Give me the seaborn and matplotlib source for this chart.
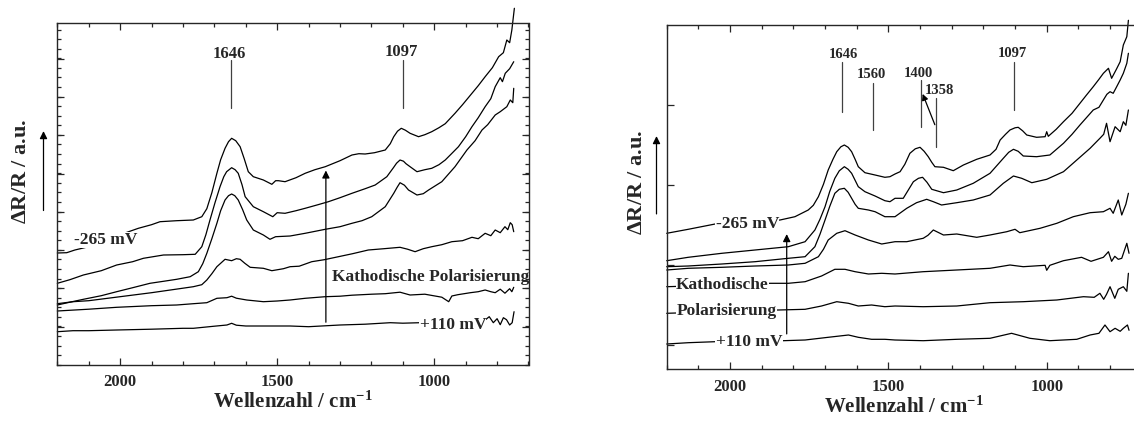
import numpy as np
import pandas as pd
import matplotlib
import matplotlib.pyplot as plt
import seaborn as sns
from matplotlib.ticker import MultipleLocator

matplotlib.use('Agg')

# ---- left panel: six spectra (height in a.u.)
left_w1 = [2200, 2170, 2144, 2100, 2000, 1942, 1900, 1873, 1820, 1767, 1740, 1724, 1708, 1692, 1680, 1666,
           1655, 1645, 1632, 1618, 1605, 1592, 1576, 1544, 1517, 1505, 1496, 1475, 1440, 1411, 1380, 1347,
           1300, 1262, 1240, 1220, 1190, 1156, 1140, 1129, 1117, 1105, 1092, 1077, 1050, 1030, 1008, 985,
           965, 934, 910, 880, 860, 838, 815, 795, 780, 769, 760, 753, 745]
left_y1 = [111.7, 112, 114.7, 118, 130, 136.4, 140, 143, 144, 144.7, 148, 156, 172, 191.4, 205, 216.4,
           223, 226.4, 224, 218, 206, 193, 188, 184.7, 180.4, 184, 184, 183, 187, 191.4, 195, 198,
           204, 209.7, 211, 210.7, 212, 214.7, 221, 228, 233.5, 236.4, 234.5, 231.4, 228, 230, 233, 237,
           241, 251.4, 260, 271.4, 279, 288, 297, 308, 312, 324.7, 322, 334.7, 356.4]
left_w2 = [2200, 2160, 2117, 2060, 2011, 1960, 1926, 1862, 1800, 1761, 1740, 1727, 1714, 1698, 1682, 1670,
           1661, 1645, 1634, 1624, 1612, 1602, 1576, 1544, 1514, 1500, 1475, 1440, 1411, 1370, 1337, 1300,
           1262, 1220, 1188, 1151, 1130, 1120, 1109, 1098, 1090, 1077, 1055, 1030, 1008, 985, 965, 945,
           923, 900, 880, 860, 838, 820, 806, 790, 783, 774, 760, 747]
left_y2 = [81.4, 85, 89.7, 94, 99.7, 103, 106.4, 109.7, 110, 110.4, 118, 130, 144.7, 162, 178, 188,
           193, 197, 195, 191.4, 180, 168, 158, 153, 148, 152, 151.4, 154, 156.4, 160, 163, 167,
           171.4, 176, 179.7, 188, 197, 201.5, 204.7, 203.5, 201, 198, 193, 195, 196.4, 200, 204.7, 211,
           218, 228, 238, 247, 258, 266, 278, 287, 283, 291.4, 296, 303]
left_w3 = [2200, 2160, 2117, 2060, 2011, 1960, 1905, 1860, 1820, 1777, 1751, 1737, 1724, 1708, 1692, 1680,
           1666, 1655, 1645, 1635, 1624, 1610, 1597, 1576, 1544, 1523, 1505, 1459, 1411, 1347, 1300, 1262,
           1230, 1199, 1156, 1129, 1118, 1109, 1095, 1082, 1055, 1035, 1018, 976, 934, 896, 870, 848,
           830, 806, 790, 769, 758, 750, 747]
left_y3 = [59.7, 62.5, 65.4, 69, 73, 77, 81.4, 83.5, 85.4, 88, 93, 101, 111.4, 126, 141.4, 154,
           164.7, 169, 170.7, 169, 164.7, 155, 144.7, 134.7, 129.7, 125.4, 128, 128.7, 131.4, 135.4, 138, 141.4,
           144, 148, 158, 171.4, 177.5, 182, 179.5, 174.7, 169.7, 171, 174.7, 183, 198, 214.7, 224, 234.7,
           240, 249.7, 253, 258, 264.7, 262, 276.4]
left_w4 = [2200, 2150, 2100, 2000, 1900, 1800, 1767, 1740, 1724, 1708, 1692, 1666, 1645, 1630, 1618, 1603,
           1586, 1544, 1517, 1480, 1459, 1430, 1390, 1350, 1305, 1260, 1210, 1160, 1109, 1085, 1061, 1035,
           1008, 976, 944, 910, 880, 860, 838, 820, 806, 790, 775, 766, 758, 752, 747]
left_y4 = [61, 63, 64, 68, 72, 76.5, 78, 80, 84.7, 91, 98, 105.4, 104, 106, 105.4, 101.4,
           97.4, 96.4, 94, 96, 98, 98.5, 103, 105, 108, 111, 114.7, 116, 117.4, 115.5, 113, 116,
           118, 120, 123, 124, 127.4, 126, 131.4, 129, 134.7, 132, 138, 135, 142, 140, 133]
left_w5 = [2200, 2100, 2011, 1900, 1820, 1767, 1724, 1692, 1660, 1645, 1630, 1597, 1544, 1500, 1459, 1411,
           1347, 1300, 1262, 1199, 1156, 1109, 1077, 1030, 976, 954, 944, 925, 885, 860, 838, 820, 806,
           790, 775, 760, 753, 747]
left_y5 = [53.7, 55.5, 57.4, 59, 59.7, 61, 62, 66.4, 67, 68.5, 66.5, 64.7, 63, 63.7, 64.7, 66.4,
           68, 68.5, 69.5, 70.5, 71, 72.5, 69.7, 70.5, 67.5, 63, 68.7, 70, 72, 73, 74.7, 73, 72,
           75.5, 71.5, 76, 73, 77.4]
left_w6 = [2200, 2150, 2100, 2011, 1900, 1800, 1767, 1700, 1660, 1645, 1630, 1600, 1544, 1459, 1400, 1300,
           1220, 1140, 1100, 1045, 990, 900, 838, 825, 812, 800, 790, 780, 770, 760, 752, 746]
left_y6 = [33, 34, 34, 34.7, 35.5, 36.4, 36.4, 38.5, 39.7, 41.4, 39.5, 38.7, 38.7, 38.7, 38, 39.7,
           40.5, 42, 41.5, 42, 42.5, 43.5, 44.7, 48, 42, 46, 40, 47, 45, 39.7, 42, 53]

# ---- right panel: seven spectra
right_w1 = [2200, 2132, 2079, 2047, 2000, 1900, 1842, 1795, 1753, 1737, 1721, 1705, 1690, 1675, 1663, 1650,
            1639, 1627, 1616, 1605, 1595, 1574, 1542, 1511, 1495, 1479, 1463, 1448, 1432, 1415, 1400, 1387,
            1374, 1363, 1353, 1326, 1295, 1263, 1221, 1179, 1160, 1147, 1130, 1116, 1100, 1090, 1076, 1063,
            1032, 1005, 1000, 995, 970, 947, 920, 895, 875, 853, 835, 821, 805, 795, 780, 768, 758, 747, 742]
right_y1 = [136, 140, 143.3, 145.3, 147, 148, 149.3, 152.6, 159.3, 164, 172.6, 185, 199.3, 210, 217.6, 222.5,
            224.3, 222, 217.6, 210, 202.6, 196.6, 194.3, 192, 192.6, 195.3, 197.6, 205, 216, 220.5, 222, 218,
            212.6, 207, 202.6, 202, 198.6, 204.3, 210, 214.3, 220, 229.3, 235, 239.3, 241.5, 242, 238.5, 234.3,
            232, 232.6, 237.6, 233, 240, 247.6, 256, 266, 274, 282.6, 290, 296, 301, 291, 300, 307.6, 324.3, 332.6, 349]
right_w2 = [2200, 2132, 2026, 1921, 1816, 1763, 1732, 1716, 1700, 1685, 1669, 1655, 1639, 1627, 1616, 1605,
            1595, 1574, 1542, 1511, 1495, 1479, 1453, 1421, 1405, 1392, 1378, 1363, 1326, 1284, 1232, 1179,
            1137, 1120, 1105, 1090, 1074, 1032, 990, 947, 920, 895, 853, 835, 821, 810, 800, 790, 779, 768,
            758, 747, 742]
right_y2 = [108.6, 112, 116, 119.3, 122.6, 127.6, 139.3, 150, 162.6, 178, 191, 198.5, 202.6, 200, 196, 189,
            182.6, 177.6, 173.3, 168.6, 167.6, 171, 171, 187.6, 191, 192, 187, 180, 176.6, 179.3, 186, 196,
            211, 217, 220, 218, 213.3, 212.6, 214.3, 226, 235, 244.3, 259.3, 262, 269.3, 275, 277.6, 276, 282.6, 289.3,
            296, 306, 316]
right_w3 = [2200, 2132, 2026, 1921, 1816, 1763, 1732, 1716, 1700, 1685, 1669, 1655, 1639, 1627, 1616, 1605,
            1595, 1563, 1542, 1511, 1479, 1442, 1411, 1379, 1358, 1332, 1284, 1232, 1179, 1137, 1105, 1079,
            1047, 1000, 947, 905, 863, 832, 820, 811, 800, 784, 768, 758, 750, 742]
right_y3 = [102.6, 103.3, 105.3, 107.6, 111, 112.6, 122.6, 135, 149.3, 163, 176, 180, 181, 177, 171, 165,
            161, 159.3, 157.6, 152.6, 152.6, 161, 166.6, 170, 167.6, 164.3, 166.6, 169.3, 174.3, 186, 193.3, 191,
            186.6, 190, 197.6, 209.3, 221, 231, 235, 246, 227.6, 242.6, 237.6, 247.6, 244, 259.3]
right_w4 = [2200, 2132, 2026, 1921, 1816, 1763, 1721, 1705, 1690, 1663, 1637, 1605, 1563, 1521, 1479, 1442,
            1390, 1375, 1358, 1326, 1284, 1221, 1179, 1126, 1100, 1085, 1021, 968, 916, 863, 821, 800, 790,
            774, 763, 750, 742]
right_y4 = [99.3, 101, 102, 103.3, 104.3, 106, 112.6, 120, 129.3, 136, 138.6, 134.3, 129.3, 125.3, 127.6, 127.6,
            131, 134, 139.3, 134.3, 135.3, 132, 134.3, 137.6, 140, 136.6, 141, 146, 152.6, 156.6, 157.6, 161, 156,
            169.3, 154.3, 165, 176]
right_w5 = [2200, 2100, 2000, 1900, 1874, 1816, 1763, 1711, 1669, 1637, 1605, 1563, 1521, 1479, 1390, 1284,
            1179, 1116, 1074, 1005, 1000, 990, 947, 890, 860, 821, 805, 795, 785, 774, 763, 747, 740]
right_y5 = [82.6, 83.5, 84.5, 85.5, 86, 86, 87.6, 93.3, 100, 100, 97.6, 95.3, 96, 95.3, 97.6, 99.3,
            101, 104.3, 102.6, 104, 99, 104, 108.6, 112, 108, 112, 117.6, 108, 113, 110, 111, 126, 116]
right_w6 = [2200, 2100, 2000, 1900, 1847, 1763, 1711, 1663, 1626, 1595, 1553, 1511, 1479, 1390, 1284, 1179,
            1074, 968, 884, 850, 832, 820, 811, 800, 785, 774, 758, 747, 742]
right_y6 = [56, 57, 58, 59, 59.3, 60, 63.3, 67.6, 66, 63.3, 64.3, 62.6, 63.3, 62.6, 63.3, 66.6,
            67.6, 69.3, 72.6, 72, 76, 70, 75, 82.6, 71, 80, 82.6, 78, 96]
right_w7 = [2200, 2132, 2047, 2000, 1900, 1832, 1763, 1690, 1626, 1595, 1553, 1511, 1479, 1390, 1284, 1179,
            1111, 1053, 990, 905, 863, 835, 816, 800, 784, 768, 758, 745, 740]
right_y7 = [25.3, 26.6, 27.6, 28, 28.3, 28.6, 29.3, 32, 34.3, 32, 30, 30, 29.3, 28.6, 30, 31,
            36, 31, 28.6, 30, 34.3, 36, 44.3, 37.6, 41, 38, 41, 44.3, 39]

left_curves = [(left_w1, left_y1), (left_w2, left_y2), (left_w3, left_y3),
               (left_w4, left_y4), (left_w5, left_y5), (left_w6, left_y6)]
right_curves = [(right_w1, right_y1), (right_w2, right_y2), (right_w3, right_y3), (right_w4, right_y4),
                (right_w5, right_y5), (right_w6, right_y6), (right_w7, right_y7)]

# peak labels
left_peaks = ['1646', '1097']
left_peak_pos = [1646, 1100]
right_peaks = ['1646', '1560', '1400', '1358', '1097']
right_peak_pos = [1646, 1548, 1398, 1350, 1102]


def to_frame(curves):
    parts = []
    for i, (w, y) in enumerate(curves):
        parts.append(pd.DataFrame({'w': w, 'y': y, 'kurve': i}))
    return pd.concat(parts, ignore_index=True)


sns.set_style('ticks')
plt.rcParams['font.family'] = ['Liberation Serif', 'DejaVu Serif']
plt.rcParams['font.weight'] = 'bold'
plt.rcParams['mathtext.fontset'] = 'custom'
plt.rcParams['mathtext.rm'] = 'Liberation Serif:bold'
plt.rcParams['mathtext.it'] = 'Liberation Serif:bold'
plt.rcParams['mathtext.bf'] = 'Liberation Serif:bold'
plt.rcParams['axes.linewidth'] = 1.0

W, H = 1134, 421
fig = plt.figure(figsize=(W / 100, H / 100), dpi=100)
ax1 = fig.add_axes([57.3 / W, 1 - 364.7 / H, 471.2 / W, 342 / H])
ax2 = fig.add_axes([666.7 / W, 1 - 369.3 / H, 475 / W, 344.6 / H])

lab = dict(fontsize=12.5, fontweight='bold', ha='center', va='center', zorder=5,
           bbox=dict(fc='white', ec='none', pad=0.3))

for ax, curves, ytop, yt in [(ax1, left_curves, 342, np.arange(38, 342, 38.3)),
                             (ax2, right_curves, 344.6, np.arange(24.3, 344, 80))]:
    df = to_frame(curves)
    sns.lineplot(data=df, x='w', y='y', hue='kurve', units='kurve', estimator=None,
                 palette=['black'] * len(curves), legend=False, linewidth=0.9,
                 clip_on=False, ax=ax)
    ax.set_xlim(2200, 700)
    ax.set_ylim(0, ytop)
    ax.xaxis.set_major_locator(MultipleLocator(500))
    ax.xaxis.set_minor_locator(MultipleLocator(100))
    ax.set_yticks(yt)
    ax.tick_params(which='both', direction='in', top=True, right=True, width=0.9,
                   labelleft=False, labelsize=12, pad=7)
    ax.tick_params(which='major', length=5)
    ax.tick_params(which='minor', length=3)
    for t in ax.get_xticklabels():
        t.set_fontweight('bold')
    ax.set_xlabel('Wellenzahl / cm$^{-1}$', fontsize=15, fontweight='bold', labelpad=1)
    ax.set_ylabel('')

ax1.yaxis.set_minor_locator(MultipleLocator(38.3 / 4))

# left panel annotations
for name, pos, ylab in zip(left_peaks, left_peak_pos, [311, 313]):
    ax1.plot([pos, pos], [257, 305], color='0.25', lw=0.9)
    ax1.text(pos + 5, ylab, name, fontsize=12, fontweight='bold', ha='center', va='center')
ax1.text(2045, 124.7, '-265 mV', **lab)
ax1.text(941, 39.7, '+110 mV', **lab)
ax1.text(1326, 88, 'Kathodische Polarisierung', fontsize=12.5, fontweight='bold', ha='left', va='center')
ax1.annotate('', xy=(1345, 197), xytext=(1345, 39.7),
             arrowprops=dict(arrowstyle='-|>', color='black', lw=0.9, mutation_scale=11))

# right panel annotations
r_text = [(1643, 314.3), (1553, 295.3), (1405, 296), (1339, 278.6), (1107, 316)]
r_lines = [(257.6, 307.6), (239.3, 286), (242, 289.3), (222.6, 271), (259.3, 307.6)]
for name, pos, (tx, ty), (y0, y1) in zip(right_peaks, right_peak_pos, r_text, r_lines):
    ax2.plot([pos, pos], [y0, y1], color='0.25', lw=0.9)
    ax2.text(tx, ty, name, fontsize=10.5, fontweight='bold', ha='center', va='center')
ax2.annotate('', xy=(1395, 278), xytext=(1350, 242),
             arrowprops=dict(arrowstyle='-|>', color='black', lw=0.9, mutation_scale=9))
ax2.text(1945, 145.3, '-265 mV', **lab)
ax2.text(2024, 84.3, 'Kathodische', **lab)
ax2.text(2010, 58.6, 'Polarisierung', **lab)
ax2.text(1940, 27.6, '+110 mV', **lab)
ax2.annotate('', xy=(1821, 138), xytext=(1821, 32.6),
             arrowprops=dict(arrowstyle='-|>', color='black', lw=0.9, mutation_scale=11))

# y labels with arrows
for lx, ly, axx, ay0, ay1 in [(20.7, 171.7, 43.5, 213.3, 128.3), (636.5, 182.5, 656.5, 216.7, 133.3)]:
    fig.text(lx / W, 1 - ly / H, r'$\Delta$R/R / a.u.', rotation=90, fontsize=16,
             fontweight='bold', ha='center', va='center')
    fig.add_artist(matplotlib.patches.FancyArrowPatch(
        (axx / W, 1 - ay0 / H), (axx / W, 1 - ay1 / H), transform=fig.transFigure,
        arrowstyle='-|>', mutation_scale=11, color='black', lw=0.9))

fig.savefig('out.png', dpi=100)
plt.close(fig)
